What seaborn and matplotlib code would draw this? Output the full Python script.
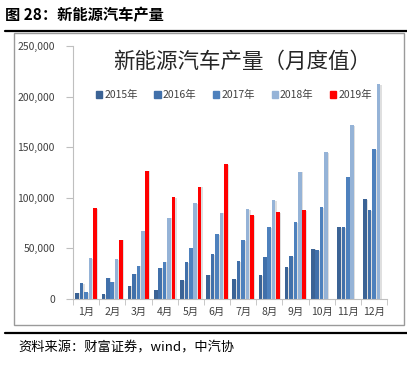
import matplotlib
matplotlib.use('Agg')
import matplotlib.pyplot as plt
import matplotlib.patheffects as pe
from matplotlib.lines import Line2D
from matplotlib.patches import Rectangle
from matplotlib.ticker import FuncFormatter, FixedLocator
import pandas as pd
import seaborn as sns

# 数据
meses = ['1月', '2月', '3月', '4月', '5月', '6月', '7月', '8月', '9月', '10月', '11月', '12月']
anios = ['2015年', '2016年', '2017年', '2018年', '2019年']
v2015 = [6300, 4600, 13200, 8900, 18400, 24000, 19700, 23400, 31600, 49700, 71100, 98400]
v2016 = [15600, 21200, 25000, 30900, 36500, 44400, 37500, 41100, 42400, 48400, 71100, 87800]
v2017 = [6800, 17200, 32900, 36800, 50700, 64200, 57900, 71100, 76000, 90800, 120700, 148000]
v2018 = [40100, 39100, 67100, 80300, 94800, 85200, 88800, 97700, 125800, 145000, 171800, 212300]
v2019 = [90000, 58600, 126700, 100300, 110900, 133000, 82900, 85900, 87800, None, None, None]
colores = ['#3B6395', '#4170AA', '#4E81BD', '#95B3D7', '#FF0000']

filas = []
for anio, valores in zip(anios, [v2015, v2016, v2017, v2018, v2019]):
    for mes, v in zip(meses, valores):
        filas.append({'mes': mes, 'anio': anio, 'valor': v})
df = pd.DataFrame(filas)

sns.set_style('white')
plt.rcParams['font.family'] = ['Noto Sans CJK SC', 'DejaVu Sans']

fig = plt.figure(figsize=(4.07, 3.65), dpi=100)
W, H = 407, 365

# lineas negras de la cabecera y del pie
fig.add_artist(Line2D([5 / W, 1], [1 - 31 / H, 1 - 31 / H], color='black', lw=1.6))
fig.add_artist(Line2D([5 / W, 1], [1 - 333 / H, 1 - 333 / H], color='black', lw=1.6))
# marco del grafico
fig.add_artist(Rectangle((14 / W, 1 - 325 / H), 390 / W, 292 / H, fill=False,
                         edgecolor='#9A9A9A', lw=1.0))

fig.text(5 / W, 1 - 15 / H, '图 28：新能源汽车产量', fontsize=11, fontweight='bold',
         ha='left', va='center', color='black')
fig.text(18 / W, 1 - 348 / H, '资料来源：财富证券，wind，中汽协', fontsize=9.5,
         style='italic', ha='left', va='center', color='black')

ax = fig.add_axes([73 / W, 66 / H, 314 / W, 253 / H])
sns.barplot(data=df, x='mes', y='valor', hue='anio', palette=colores,
            width=0.84, gap=0.18, ax=ax, legend=False, saturation=1, linewidth=0)

for bar in ax.patches:
    bar.set_path_effects([pe.SimplePatchShadow(offset=(1.0, -0.5), shadow_rgbFace='#B0B0B0', alpha=0.4),
                          pe.Normal()])

ax.set_ylim(0, 250000)
ax.set_xlim(-0.5, 11.5)
ax.set_yticks(range(0, 250001, 50000))
ax.yaxis.set_major_formatter(FuncFormatter(lambda v, p: f'{int(v):,}'))
ax.set_xlabel('')
ax.set_ylabel('')

for lado in ['top', 'right']:
    ax.spines[lado].set_visible(False)
ax.spines['left'].set_color('#BFBFBF')
ax.spines['bottom'].set_color('#BFBFBF')
ax.tick_params(axis='y', length=5, color='#BFBFBF', labelsize=7.5, labelcolor='#404040', pad=8,
               left=True, direction='out')
ax.tick_params(axis='x', which='major', length=0, labelsize=7.5, labelcolor='#404040', pad=6)
ax.xaxis.set_minor_locator(FixedLocator([i - 0.5 for i in range(13)]))
ax.tick_params(axis='x', which='minor', length=4, color='#BFBFBF', bottom=True, direction='out')

fig.text(242 / W, 1 - 62 / H, '新能源汽车产量（月度值）', fontsize=15.5, ha='center',
         va='center', color='#262626')

handles = [Rectangle((0, 0), 1, 1, color=c) for c in colores]
fig.legend(handles, anios, loc='center', bbox_to_anchor=(234 / W, 1 - 95 / H), ncol=5,
           frameon=False, fontsize=7.5, handlelength=0.6, handleheight=0.6, handletextpad=0.2,
           columnspacing=1.6, labelcolor='#404040')

fig.savefig('out.png', dpi=100)
